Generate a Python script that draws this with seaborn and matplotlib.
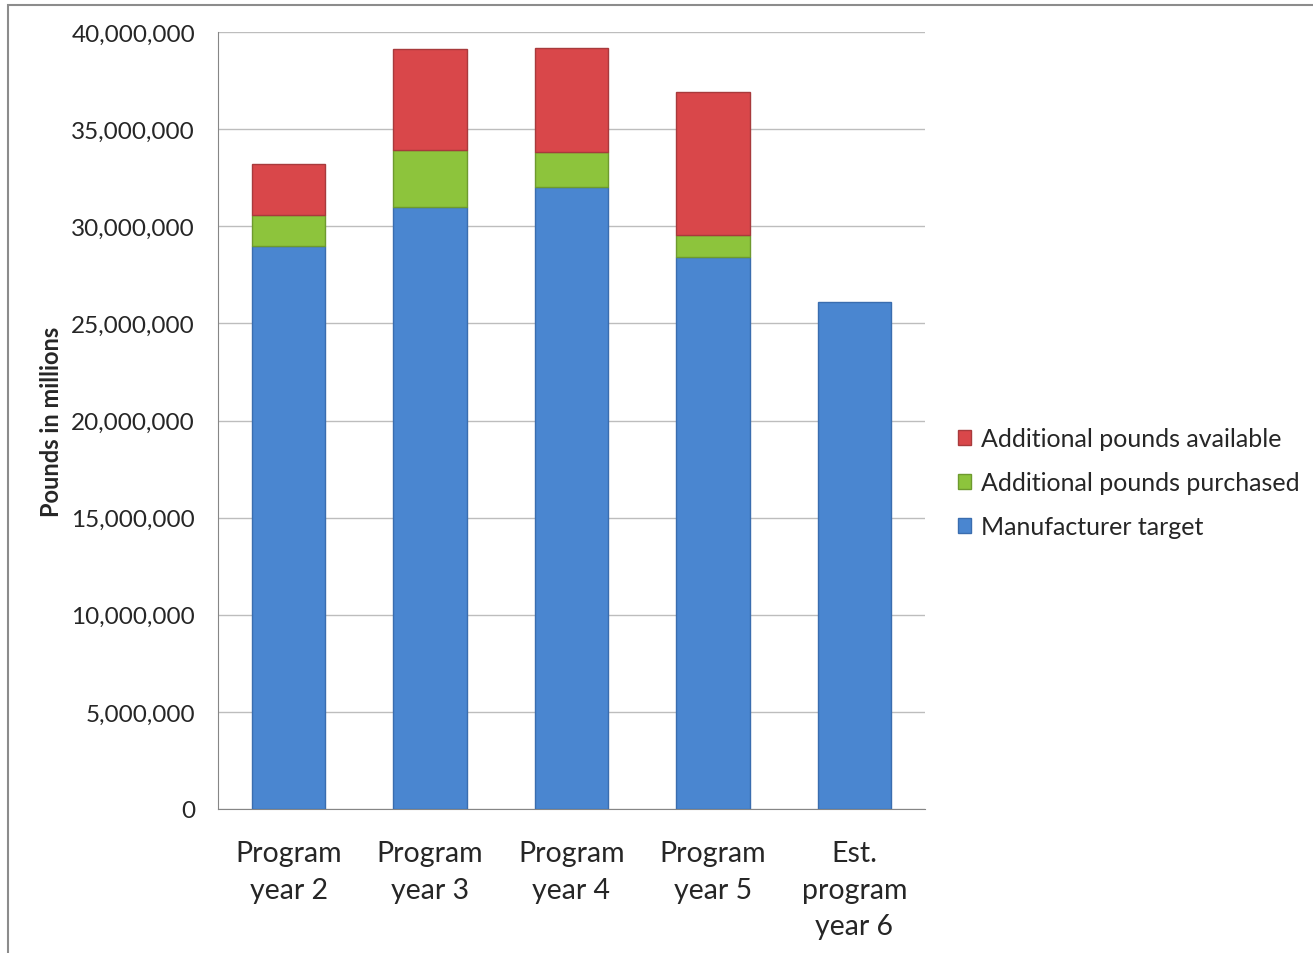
import matplotlib
matplotlib.use("Agg")
import matplotlib.pyplot as plt
import matplotlib.ticker as mticker
from matplotlib.patches import Rectangle
import seaborn as sns
import pandas as pd

# valores (libras)
years = ["Program\nyear 2", "Program\nyear 3", "Program\nyear 4", "Program\nyear 5", "Est.\nprogram\nyear 6"]
target = [29_000_000, 31_000_000, 32_000_000, 28_400_000, 26_100_000]
purchased = [1_600_000, 2_900_000, 1_800_000, 1_150_000, 0]
available = [2_600_000, 5_200_000, 5_400_000, 7_350_000, 0]

blue = "#4A86D0"
green = "#8DC43C"
red = "#D9474A"

df = pd.DataFrame({"year": years, "target": target, "purchased": purchased, "available": available})
df["base2"] = df["target"] + df["purchased"]

sns.set_style("white")
plt.rcParams["font.family"] = ["Lato", "DejaVu Sans"]

fig = plt.figure(figsize=(13.13, 9.54), dpi=100)
ax = fig.add_axes([218 / 1313, 1 - 810 / 954, 707 / 1313, 777 / 954])

sns.barplot(data=df, x="year", y="target", color=blue, width=0.52, ax=ax, saturation=1,
            edgecolor="#3A6DAF", linewidth=1, label="Manufacturer target", zorder=3)
sns.barplot(data=df, x="year", y="purchased", color=green, width=0.52, ax=ax, saturation=1,
            bottom=df["target"], edgecolor="#6E9A2E", linewidth=1,
            label="Additional pounds purchased", zorder=3)
sns.barplot(data=df, x="year", y="available", color=red, width=0.52, ax=ax, saturation=1,
            bottom=df["base2"], edgecolor="#A83A3C", linewidth=1,
            label="Additional pounds available", zorder=3)

# barras vacias sin borde
for p in ax.patches:
    if p.get_height() == 0:
        p.set_linewidth(0)

ax.set_ylim(0, 40_000_000)
ax.set_xlim(-0.5, 4.5)
ax.yaxis.set_major_locator(mticker.MultipleLocator(5_000_000))
ax.yaxis.set_major_formatter(mticker.FuncFormatter(lambda v, p: f"{int(v):,}"))
ax.grid(axis="y", color="#BDBDBD", linewidth=1, zorder=0)
ax.set_axisbelow(True)

for s in ["top", "right"]:
    ax.spines[s].set_visible(False)
ax.spines["left"].set_color("#868686")
ax.spines["bottom"].set_color("#868686")
ax.tick_params(axis="y", left=False, labelsize=17.5, pad=13)
ax.tick_params(axis="x", bottom=False, labelsize=20.5, pad=19)
for t in ax.get_xticklabels():
    t.set_linespacing(1.5)
ax.set_xlabel("")
ax.set_ylabel("Pounds in millions", fontsize=17, fontweight="bold", labelpad=6)

handles, labels = ax.get_legend_handles_labels()
order = [labels.index(l) for l in ["Additional pounds available", "Additional pounds purchased", "Manufacturer target"]]
ax.legend([handles[i] for i in order], [labels[i] for i in order],
          loc="center left", bbox_to_anchor=((935 - 218) / 707, 0.42), frameon=False,
          fontsize=18, handlelength=0.55, handleheight=0.55, handletextpad=0.4, labelspacing=0.85)

fig.patches.append(Rectangle((8 / 1313, -0.05), 1.1, (954 - 6) / 954 + 0.05, transform=fig.transFigure,
                             fill=False, edgecolor="#8C8C8C", linewidth=1.5))

fig.savefig("out.png", dpi=100)
